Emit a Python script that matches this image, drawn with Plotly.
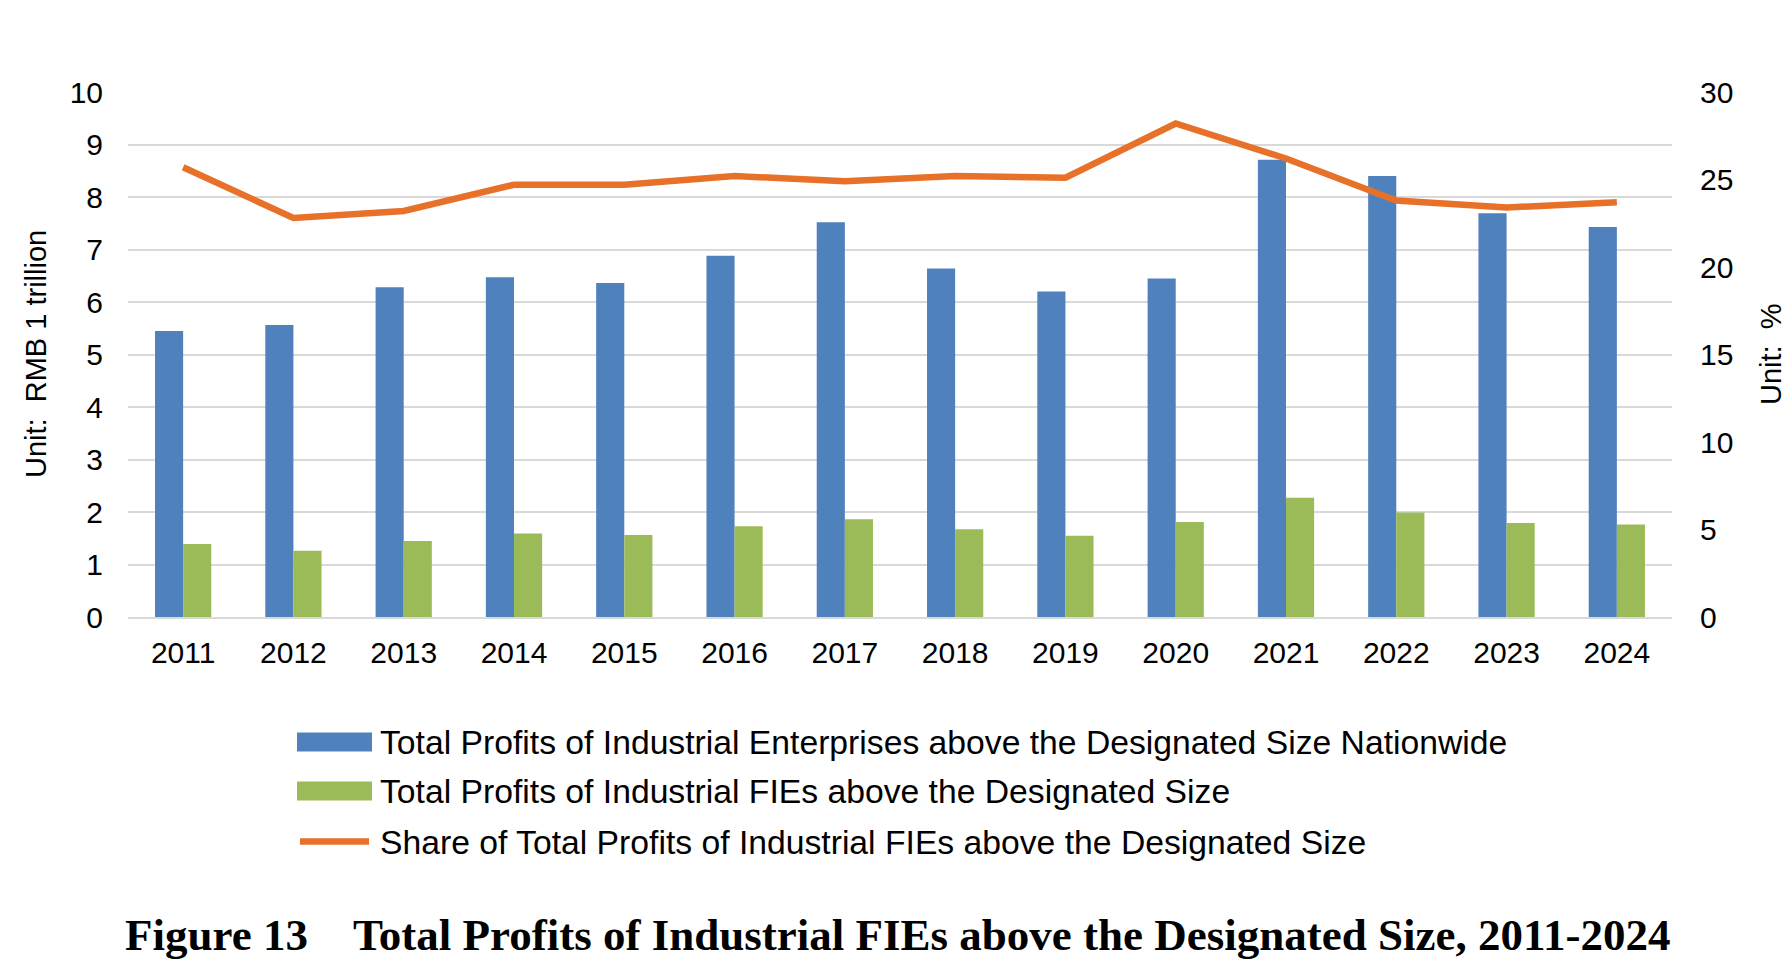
import plotly.graph_objects as go

# ---------------- data ----------------
years = ["2011", "2012", "2013", "2014", "2015", "2016", "2017",
         "2018", "2019", "2020", "2021", "2022", "2023", "2024"]
nationwide = [5.45, 5.56, 6.28, 6.47, 6.36, 6.88, 7.52, 6.64, 6.20, 6.45, 8.71, 8.40, 7.69, 7.43]
fie_profits = [1.39, 1.26, 1.45, 1.59, 1.56, 1.73, 1.86, 1.67, 1.55, 1.81, 2.27, 1.99, 1.79, 1.76]
fie_share = [25.7, 22.8, 23.2, 24.7, 24.7, 25.2, 24.9, 25.2, 25.1, 28.2, 26.2, 23.8, 23.4, 23.7]

series_names = [
    "Total Profits of Industrial Enterprises above the Designated Size Nationwide",
    "Total Profits of Industrial FIEs above the Designated Size",
    "Share of Total Profits of Industrial FIEs above the Designated Size",
]
left_ticks = [0, 1, 2, 3, 4, 5, 6, 7, 8, 9, 10]
right_ticks = [0, 5, 10, 15, 20, 25, 30]
left_title = "Unit:\u00a0\u00a0RMB 1 trillion"
right_title = "Unit:\u00a0\u00a0%"
title_text = "Figure 13\u00a0\u00a0\u00a0\u00a0Total Profits of Industrial FIEs above the Designated Size, 2011-2024"

BLUE = "#4F81BD"
GREEN = "#9BBB59"
ORANGE = "#E8712A"
GRID = "#D9D9D9"
SANS = "Liberation Sans, Arial, sans-serif"
SERIF = "Liberation Serif, Times New Roman, serif"

W, H = 1788, 966
L, R, T, B = 128, 1672, 92, 617  # plot area in pixels

def px(x):
    return (x - L) / (R - L)

def py(y):
    return (B - y) / (B - T)

fig = go.Figure()
fig.add_trace(go.Bar(x=years, y=nationwide, name=series_names[0],
                     marker=dict(color=BLUE, line=dict(width=0)), showlegend=False))
fig.add_trace(go.Bar(x=years, y=fie_profits, name=series_names[1],
                     marker=dict(color=GREEN, line=dict(width=0)), showlegend=False))
fig.add_trace(go.Scatter(x=years, y=fie_share, name=series_names[2], yaxis="y2",
                         mode="lines", line=dict(color=ORANGE, width=6.5),
                         showlegend=False))

# custom legend (wide symbols like the reference)
shapes = []
annotations = []
rows_y = [742, 791, 841.5]
sym_x0, sym_x1 = 297, 372
shapes.append(dict(type="rect", xref="paper", yref="paper",
                   x0=px(sym_x0), x1=px(sym_x1), y0=py(rows_y[0] + 9.5), y1=py(rows_y[0] - 9.5),
                   fillcolor=BLUE, line=dict(width=0)))
shapes.append(dict(type="rect", xref="paper", yref="paper",
                   x0=px(sym_x0), x1=px(sym_x1), y0=py(rows_y[1] + 9.5), y1=py(rows_y[1] - 9.5),
                   fillcolor=GREEN, line=dict(width=0)))
shapes.append(dict(type="line", xref="paper", yref="paper",
                   x0=px(sym_x0 + 3), x1=px(sym_x1 - 3), y0=py(rows_y[2]), y1=py(rows_y[2]),
                   line=dict(color=ORANGE, width=6.5)))
for name, ry in zip(series_names, rows_y):
    annotations.append(dict(text=name, xref="paper", yref="paper",
                            x=px(378), y=py(ry), xanchor="left", yanchor="middle",
                            showarrow=False, font=dict(family=SANS, size=33.7, color="#000000")))

# axis titles
annotations.append(dict(text=left_title, xref="paper", yref="paper", x=px(36), y=py(354),
                        xanchor="center", yanchor="middle", textangle=-90, showarrow=False,
                        font=dict(family=SANS, size=29, color="#000000")))
annotations.append(dict(text=right_title, xref="paper", yref="paper", x=px(1771), y=py(354),
                        xanchor="center", yanchor="middle", textangle=-90, showarrow=False,
                        font=dict(family=SANS, size=29, color="#000000")))

# figure caption
annotations.append(dict(text="<b>" + title_text + "</b>", xref="paper", yref="paper",
                        x=px(897), y=py(935), xanchor="center", yanchor="middle",
                        showarrow=False, font=dict(family=SERIF, size=45, color="#000000")))

fig.update_layout(
    width=W, height=H,
    margin=dict(l=L, r=W - R, t=T, b=H - B, pad=0, autoexpand=False),
    paper_bgcolor="white", plot_bgcolor="white",
    barmode="group", bargap=0.49, bargroupgap=0,
    font=dict(family=SANS, size=30, color="#000000"),
    xaxis=dict(type="category", showgrid=False, showline=True, linecolor=GRID, linewidth=2,
               ticks="", ticklabelstandoff=8, tickfont=dict(size=30, family=SANS),
               automargin=False),
    yaxis=dict(range=[0, 10], tickvals=left_ticks, showgrid=True, gridcolor=GRID, gridwidth=2,
               zeroline=False, ticks="", ticklabelstandoff=24,
               tickfont=dict(size=30, family=SANS), automargin=False),
    yaxis2=dict(range=[0, 30], tickvals=right_ticks, overlaying="y", side="right",
                showgrid=False, zeroline=False, ticks="", ticklabelstandoff=27,
                tickfont=dict(size=30, family=SANS), automargin=False),
    shapes=shapes,
    annotations=annotations,
)

fig.write_html("out.html")
